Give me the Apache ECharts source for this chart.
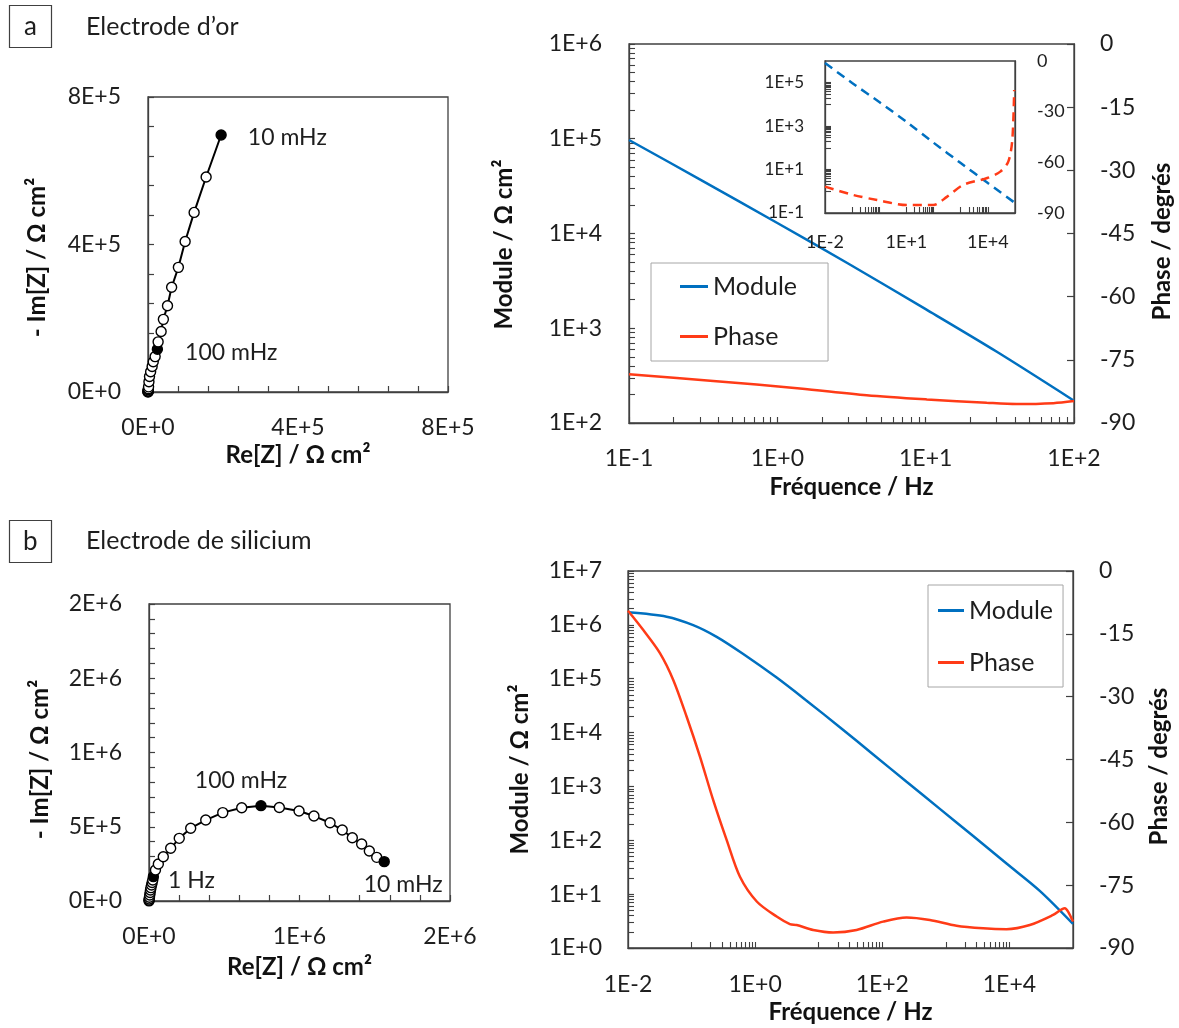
<!DOCTYPE html>
<html><head><meta charset="utf-8">
<script src="https://cdn.jsdelivr.net/npm/echarts@6/dist/echarts.min.js"></script>
<style>html,body{margin:0;padding:0;background:#fff}#c{width:1179px;height:1028px}</style>
</head><body><div id="c"></div><script>
// ---------------- DATA ----------------
// (a) Gold electrode – Nyquist (high frequency -> 10 mHz)
const nyqA_re  = [0, 100, 200, 300, 600, 1000, 1500, 2500, 4000, 7000, 11000, 14000, 19000, 25000, 27000, 35000, 41000, 52000, 63000, 81000, 99000, 123000, 155000, 195000];
const nyqA_im  = [300, 800, 1500, 3000, 6000, 9000, 14000, 28000, 42000, 55000, 69000, 82000, 96000, 116000, 136000, 164000, 197000, 234000, 284000, 338000, 408000, 487000, 583000, 697000];
const nyqA_tag = ['', '', '', '', '', '', '', '', '', '', '', '', '', '100 mHz', '', '', '', '', '', '', '', '', '', '10 mHz'];

// (a) Gold electrode – Bode
const bodeA_freq  = [0.1, 0.3, 1, 3, 10, 30, 100];
const bodeA_mod   = [97000, 37300, 12900, 4820, 1590, 568, 172];
const bodeA_pfreq = [0.1, 0.37, 1.42, 4.0, 10.2, 25.8, 41, 72.6, 100];
const bodeA_phase = [-78.4, -80.0, -81.8, -83.4, -84.4, -85.2, -85.5, -85.3, -84.8];

// (a) inset – full frequency range
const insetA_freq  = [0.01, 0.1, 1, 10, 100, 1000, 10000, 100000];
const insetA_mod   = [810000, 97000, 12900, 1590, 172, 20, 2.4, 0.29];
const insetA_pfreq = [0.01, 0.108, 0.83, 10.6, 97, 318, 1230, 9500, 28700, 56600, 79400, 93300];
const insetA_phase = [-74.4, -79.3, -82.3, -85.3, -85.3, -80.3, -73.4, -69.3, -65.5, -59.6, -46.8, -17.2];

// (b) Silicon electrode – Nyquist (high frequency -> 10 mHz)
const nyqB_re  = [100, 500, 1500, 3000, 5000, 7500, 10000, 13000, 17000, 21000, 25000, 29000, 43000, 62000, 95000, 144000, 201000, 277000, 377000, 490000, 616000, 744000, 866000, 997000, 1096000, 1203000, 1284000, 1351000, 1413000, 1464000, 1513000, 1563000];
const nyqB_im  = [1000, 5000, 13000, 25000, 40000, 57000, 74000, 90000, 108000, 125000, 141000, 164000, 209000, 249000, 298000, 355000, 422000, 490000, 545000, 595000, 628000, 642000, 630000, 606000, 572000, 527000, 478000, 426000, 384000, 337000, 294000, 265000];
const nyqB_tag = ['', '', '', '', '', '', '', '', '', '', '', '1 Hz', '', '', '', '', '', '', '', '', '', '100 mHz', '', '', '', '', '', '', '', '', '', '10 mHz'];

// (b) Silicon electrode – Bode
const bodeB_freq  = [0.01, 0.0405, 0.106, 0.248, 0.65, 2.18, 6.45, 21.5, 72, 241, 805, 2690, 9000, 30000, 100000];
const bodeB_mod   = [1710000, 1420000, 990000, 600000, 288000, 105000, 39100, 12600, 3930, 1220, 383, 120, 37, 11.5, 2.8];
const bodeB_pfreq = [0.01, 0.0174, 0.0318, 0.0515, 0.0837, 0.1355, 0.219, 0.356, 0.577, 1.06, 2.18, 3.52, 4.49, 8.2, 16.9, 39.4, 103, 241, 560, 1472, 3856, 9000, 20900, 48700, 74300, 83700, 100000];
const bodeB_phase = [-9.5, -14.1, -19.6, -26.0, -34.8, -44.3, -54.7, -64.2, -73.0, -78.9, -82.5, -84.3, -84.5, -85.7, -86.3, -85.7, -83.7, -82.7, -83.3, -84.7, -85.3, -85.5, -84.5, -82.1, -80.5, -81.3, -83.7];

// tick labels / tick decades
const bodeA_xLabels = [0.1, 1, 10, 100];
const bodeA_xTickDecades = [0.1, 1, 10];
const bodeA_yLabels = [100, 1000, 10000, 100000, 1000000];
const bodeA_yTickDecades = [100, 1000, 10000, 100000];
const inset_xLabels = [0.01, 10, 10000];
const inset_xTickDecades = [0.1, 10, 1000];
const inset_yLabels = [0.1, 10, 1000, 100000];
const inset_yTickDecades = [1, 100, 10000];
const bodeB_xLabels = [0.01, 1, 100, 10000];
const bodeB_xTickDecades = [0.1, 10, 1000];
const bodeB_yLabels = [1, 10, 100, 1000, 10000, 100000, 1000000, 10000000];
const bodeB_yTickDecades = [1, 10, 100, 1000, 10000, 100000, 1000000];

// ---------------- STYLE ----------------
const FONT = 'Lato';
const BLUE = '#0070c0';
const RED = '#ff3b17';
const AXC = '#404040';
const TXT = '#1e1e1e';

function sci(v) { return Number(v).toExponential(0).replace('e', 'E'); }
function decTicks(decades) {
  const out = [];
  decades.forEach(d => { for (let k = 1; k <= 10; k++) out.push(d * k); });
  return out;
}
function pairs(xs, ys) { return xs.map((x, i) => [x, ys[i]]); }

function nameStyle(shift) {
  return { fontFamily: FONT, fontSize: 24, fontWeight: 'bold', color: '#111', padding: [0, shift || 0, 0, 0] };
}
function lab(size, margin, extra) {
  return Object.assign({ fontFamily: FONT, fontSize: size, color: TXT, margin: margin }, extra || {});
}
const line = { show: true, onZero: false, lineStyle: { color: AXC, width: 1.3 } };

function valAxis(o) {
  return Object.assign({
    type: 'value', splitLine: { show: false },
    axisLine: line,
    axisTick: { show: true, inside: true, length: 6, lineStyle: { color: AXC, width: 1.2 } },
    minorTick: { show: true, splitNumber: 5, length: 6, lineStyle: { color: AXC, width: 1.2 } },
    nameLocation: 'middle', nameRotate: 0, nameTextStyle: nameStyle(0)
  }, o);
}
function logAxis(o, ticks, labels, size, margin) {
  return Object.assign({
    type: 'log', logBase: 10, splitLine: { show: false },
    axisLine: line,
    axisTick: { show: true, inside: true, length: 6, customValues: ticks, lineStyle: { color: AXC, width: 1.1 } },
    axisLabel: lab(size, margin, { customValues: labels, formatter: sci }),
    nameLocation: 'middle', nameTextStyle: nameStyle(0)
  }, o);
}
function phaseAxis(o) {
  return Object.assign({
    type: 'value', min: -90, max: 0, interval: 15, position: 'right', splitLine: { show: false },
    axisLine: line,
    axisTick: { show: true, inside: true, length: 7, lineStyle: { color: AXC, width: 1.2 } },
    axisLabel: lab(23, 26),
    name: 'Phase / degrés', nameLocation: 'middle', nameRotate: 90
  }, o);
}

const tagStyle = {
  'a10 mHz':  { position: 'right', distance: 21, offset: [0, 3] },
  'a100 mHz': { position: 'right', distance: 22, offset: [0, 3] },
  'b100 mHz': { position: 'top', distance: 8, offset: [-20, 0] },
  'b1 Hz':    { position: 'right', distance: 9, offset: [0, 4] },
  'b10 mHz':  { position: 'bottom', distance: 6, offset: [19, 0] }
};
function nyqData(re, im, tags, panel) {
  return re.map((x, i) => {
    const d = { value: [x, im[i]] };
    if (tags[i]) {
      d.itemStyle = { color: '#000', borderColor: '#000' };
      d.label = Object.assign({
        show: true, formatter: tags[i], fontFamily: FONT, fontSize: 23, color: TXT
      }, tagStyle[panel + tags[i]]);
    }
    return d;
  });
}
function nyqSeries(xi, yi, data) {
  return {
    type: 'line', xAxisIndex: xi, yAxisIndex: yi, data: data,
    symbol: 'circle', symbolSize: 10, showAllSymbol: true,
    lineStyle: { color: '#000', width: 2 },
    itemStyle: { color: '#fff', borderColor: '#000', borderWidth: 1.4 },
    z: 3
  };
}

const option = {
  animation: false,
  backgroundColor: '#fff',
  textStyle: { fontFamily: FONT },
  title: [
    { text: 'a', left: 9, top: 5, borderWidth: 1.2, borderColor: AXC, padding: [8, 15, 8, 15],
      textStyle: { fontFamily: FONT, fontSize: 26, fontWeight: 'normal', color: TXT, lineHeight: 27 } },
    { text: 'Electrode d’or', left: 86, top: 12, padding: 0,
      textStyle: { fontFamily: FONT, fontSize: 25, fontWeight: 'normal', color: TXT, lineHeight: 30 } },
    { text: 'b', left: 9, top: 520, borderWidth: 1.2, borderColor: AXC, padding: [8, 14, 8, 14],
      textStyle: { fontFamily: FONT, fontSize: 26, fontWeight: 'normal', color: TXT, lineHeight: 27 } },
    { text: 'Electrode de silicium', left: 86, top: 526, padding: 0,
      textStyle: { fontFamily: FONT, fontSize: 25, fontWeight: 'normal', color: TXT, lineHeight: 30 } }
  ],
  legend: [
    { data: ['Module', 'Phase'], orient: 'vertical', left: 651, top: 263,
      padding: [11, 31, 12, 29], itemGap: 25, itemWidth: 28, itemHeight: 3, icon: 'rect',
      borderColor: '#a6a6a6', borderWidth: 1, selectedMode: false,
      textStyle: { fontFamily: FONT, fontSize: 25, color: TXT } },
    { data: ['Module', 'Phase'], orient: 'vertical', left: 928, top: 585,
      padding: [13, 10, 12, 10], itemGap: 27, itemWidth: 26, itemHeight: 3, icon: 'rect',
      borderColor: '#a6a6a6', borderWidth: 1, selectedMode: false,
      textStyle: { fontFamily: FONT, fontSize: 25, color: TXT } }
  ],
  grid: [
    { left: 148, top: 97, width: 300, height: 295, show: true, borderColor: AXC, borderWidth: 1.3, outerBoundsMode: 'none' },
    { left: 629, top: 44, width: 445, height: 379, show: true, borderColor: AXC, borderWidth: 1.3, outerBoundsMode: 'none' },
    { left: 825, top: 61, width: 190, height: 152, show: true, backgroundColor: '#fff', borderColor: AXC, borderWidth: 1.3, z: 5, outerBoundsMode: 'none' },
    { left: 149, top: 604, width: 301, height: 297, show: true, borderColor: AXC, borderWidth: 1.3, outerBoundsMode: 'none' },
    { left: 628, top: 571, width: 445, height: 377, show: true, borderColor: AXC, borderWidth: 1.3, outerBoundsMode: 'none' }
  ],
  xAxis: [
    valAxis({ gridIndex: 0, min: 0, max: 800000, interval: 400000, axisLabel: lab(23, 24, { formatter: sci }),
      name: 'Re[Z] / Ω cm²', nameGap: 51 }),
    logAxis({ gridIndex: 1, min: 0.1, max: 100, name: 'Fréquence / Hz', nameGap: 52 },
      decTicks(bodeA_xTickDecades), bodeA_xLabels, 23, 24),
    logAxis({ gridIndex: 2, min: 0.01, max: 100000, z: 6 },
      decTicks(inset_xTickDecades), inset_xLabels, 18, 20),
    valAxis({ gridIndex: 3, min: 0, max: 2000000, interval: 1000000, axisLabel: lab(23, 24, { formatter: sci }),
      name: 'Re[Z] / Ω cm²', nameGap: 54 }),
    logAxis({ gridIndex: 4, min: 0.01, max: 100000, name: 'Fréquence / Hz', nameGap: 52 },
      decTicks(bodeB_xTickDecades), bodeB_xLabels, 23, 25)
  ],
  yAxis: [
    valAxis({ gridIndex: 0, min: 0, max: 800000, interval: 400000, axisLabel: lab(23, 27, { formatter: sci }),
      name: '- Im[Z] / Ω cm²', nameGap: 99, nameRotate: 90, nameTextStyle: nameStyle(26) }),
    logAxis({ gridIndex: 1, min: 100, max: 1000000, name: 'Module / Ω cm²', nameGap: 113, nameRotate: 90, nameTextStyle: nameStyle(22) },
      decTicks(bodeA_yTickDecades), bodeA_yLabels, 23, 27),
    phaseAxis({ gridIndex: 1, nameGap: 76, nameTextStyle: nameStyle(16) }),
    logAxis({ gridIndex: 2, min: 0.1, max: 1000000, z: 6 },
      decTicks(inset_yTickDecades), inset_yLabels, 17, 21),
    { type: 'value', gridIndex: 2, min: -90, max: 0, interval: 30, position: 'right', z: 6,
      splitLine: { show: false }, axisLine: line, axisTick: { show: false },
      axisLabel: lab(18, 22) },
    valAxis({ gridIndex: 3, min: 0, max: 2000000, interval: 500000, axisLabel: lab(23, 27, { formatter: sci }),
      name: '- Im[Z] / Ω cm²', nameGap: 97, nameRotate: 90, nameTextStyle: nameStyle(14) }),
    logAxis({ gridIndex: 4, min: 1, max: 10000000, name: 'Module / Ω cm²', nameGap: 96, nameRotate: 90, nameTextStyle: nameStyle(20) },
      decTicks(bodeB_yTickDecades), bodeB_yLabels, 23, 26),
    phaseAxis({ gridIndex: 4, nameGap: 74, nameTextStyle: nameStyle(14) })
  ],
  series: [
    nyqSeries(0, 0, nyqData(nyqA_re, nyqA_im, nyqA_tag, 'a')),
    { name: 'Module', type: 'line', xAxisIndex: 1, yAxisIndex: 1, data: pairs(bodeA_freq, bodeA_mod),
      symbol: 'none', smooth: 0.3, color: BLUE, lineStyle: { color: BLUE, width: 2.5 } },
    { name: 'Phase', type: 'line', xAxisIndex: 1, yAxisIndex: 2, data: pairs(bodeA_pfreq, bodeA_phase),
      symbol: 'none', smooth: 0.3, color: RED, lineStyle: { color: RED, width: 2.5 } },
    { name: 'Module (encart)', type: 'line', xAxisIndex: 2, yAxisIndex: 3, data: pairs(insetA_freq, insetA_mod),
      symbol: 'none', smooth: 0.2, color: BLUE, z: 7, lineStyle: { color: BLUE, width: 2.5, type: [9, 6] } },
    { name: 'Phase (encart)', type: 'line', xAxisIndex: 2, yAxisIndex: 4, data: pairs(insetA_pfreq, insetA_phase),
      symbol: 'none', smooth: 0.3, color: RED, z: 7, lineStyle: { color: RED, width: 2.5, type: [9, 6] } },
    nyqSeries(3, 5, nyqData(nyqB_re, nyqB_im, nyqB_tag, 'b')),
    { name: 'Module', type: 'line', xAxisIndex: 4, yAxisIndex: 6, data: pairs(bodeB_freq, bodeB_mod),
      symbol: 'none', smooth: 0.3, color: BLUE, lineStyle: { color: BLUE, width: 2.5 } },
    { name: 'Phase', type: 'line', xAxisIndex: 4, yAxisIndex: 7, data: pairs(bodeB_pfreq, bodeB_phase),
      symbol: 'none', smooth: 0.3, color: RED, lineStyle: { color: RED, width: 2.5 } }
  ]
};
const chart = echarts.init(document.getElementById('c'), null, { renderer: 'canvas' });
chart.setOption(option);
</script></body></html>
